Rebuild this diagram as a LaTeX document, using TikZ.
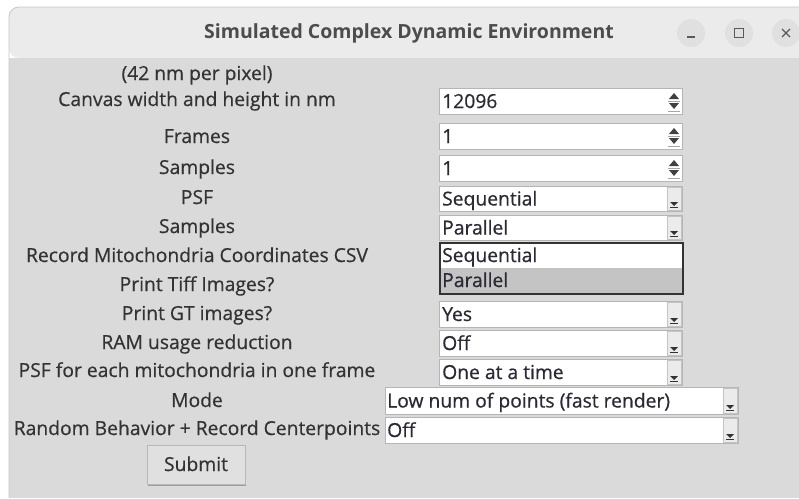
\documentclass[tikz,border=0pt]{standalone}
\usepackage{fontspec}
\setmainfont{Open Sans}[FakeBold=0.6]
\newfontfamily\mediumfont{Open Sans}[FakeBold=0.6,AutoFakeBold=0.6]
\definecolor{bodybg}{HTML}{DADADA}
\definecolor{titlebg}{HTML}{EBEBEB}
\definecolor{lblcol}{HTML}{333333}
\definecolor{fldborder}{HTML}{B5B5B5}
\definecolor{txtcol}{HTML}{2A2A35}
\definecolor{btncirc}{HTML}{E0E0E0}
\definecolor{hilite}{HTML}{C4C4C4}
\tikzset{
  lbl/.style={font=\mediumfont\bfseries\fontsize{19.3}{22}\selectfont, text=lblcol, anchor=base, inner sep=0pt},
  ftxt/.style={font=\mediumfont\bfseries\fontsize{19.3}{22}\selectfont, text=txtcol, anchor=base west, inner sep=0pt},
  fieldbox/.style={draw=fldborder, fill=white, line width=1pt},
  ddbtn/.style={draw=fldborder!80, fill=black!8, line width=0.6pt},
}
\begin{document}
\begin{tikzpicture}[x=1pt,y=-1pt]
\useasboundingbox (0,0) rectangle (799,498);
\fill[white] (0,0) rectangle (799,498);
% window
\fill[bodybg] (9,58) rectangle (799,498);
\fill[titlebg, rounded corners=10pt] (9,58) -- (9,7) -- (810,7) -- (810,58) -- cycle;
\fill[titlebg] (700,7) rectangle (799,58);
\draw[black!22, line width=0.8pt, rounded corners=10pt] (9,498) -- (9,7) -- (810,7);
\draw[black!15, line width=0.8pt] (9,58) -- (799,58);
\node[font=\fontspec{Open Sans Bold}\fontsize{19.5}{22}\selectfont, text=black!70] (title) at (409,33) {Simulated Complex Dynamic Environment};
% title buttons
\fill[btncirc] (691,33) circle (14);
\fill[btncirc] (739,33) circle (14);
\fill[btncirc] (786,33) circle (14);
\node[inner sep=0pt] (bmin) at (691,33) {};
\node[inner sep=0pt] (bmax) at (739,33) {};
\node[inner sep=0pt] (bcls) at (786,33) {};
\draw[black!65, line width=1.3pt] (687,37) -- (695,37);
\draw[black!65, line width=1.3pt] (734.5,28.5) rectangle (743.5,37.5);
\draw[black!65, line width=1.3pt] (782,29) -- (790,37) (790,29) -- (782,37);

% labels
\node[lbl] (l0) at (197,80) {(42 nm per pixel)};
\node[lbl] (l1) at (197,106) {Canvas width and height in nm};
\node[lbl] (l2) at (197,143) {Frames};
\node[lbl] (l3) at (197,174) {Samples};
\node[lbl] (l4) at (197,204) {PSF};
\node[lbl] (l5) at (197,233) {Samples};
\node[lbl] (l6) at (197,262) {Record Mitochondria Coordinates CSV};
\node[lbl] (l7) at (197,291) {Print Tiff Images?};
\node[lbl] (l8) at (197,320) {Print GT images?};
\node[lbl] (l9) at (197,349) {RAM usage reduction};
\node[lbl] (l10) at (197,377) {PSF for each mitochondria in one frame};
\node[lbl] (l11) at (197,407) {Mode};
\node[lbl] (l12) at (197,435) {Random Behavior + Record Centerpoints};

% spin boxes
\foreach \n/\t/\b/\v in {f1/88/114/12096, f2/123/149/1, f3/155/181/1}{
  \draw[fieldbox] (439,\t) rectangle (682,\b);
  \node[ftxt] (\n) at (442,{(\t+\b)/2+7}) {\v};
  \fill[black!75] (669,{(\t+\b)/2-2}) -- (679,{(\t+\b)/2-2}) -- (674,{(\t+\b)/2-8}) -- cycle;
  \fill[black!75] (669,{(\t+\b)/2+2}) -- (679,{(\t+\b)/2+2}) -- (674,{(\t+\b)/2+8}) -- cycle;
  \draw[black!35, line width=0.5pt] (668,{(\t+\b)/2}) -- (680,{(\t+\b)/2});
  \draw[black!35, line width=0.5pt] (668,{\b-3}) -- (680,{\b-3});
}
% dropdown fields
\foreach \n/\t/\b/\v in {f4/186/211/Sequential, f5/215/240/Parallel, f8/301/327/Yes, f9/330/356/Off, f10/359/385/One at a time}{
  \draw[fieldbox] (439,\t) rectangle (682,\b);
  \node[ftxt] (\n) at (442,{(\t+\b)/2+7}) {\v};
  \draw[ddbtn] (667,{\t+1}) rectangle (681,{\b-1});
  \fill[black!80] (670,{\b-9}) -- (678,{\b-9}) -- (674,{\b-5}) -- cycle;
  \draw[black!80, line width=0.8pt] (670,{\b-3.5}) -- (678,{\b-3.5});
}
\foreach \n/\t/\b/\v in {f11/387/414/Low num of points (fast render), f12/417/443/Off}{
  \draw[fieldbox] (385,\t) rectangle (738,\b);
  \node[ftxt] (\n) at (387,{(\t+\b)/2+7}) {\v};
  \draw[ddbtn] (723,{\t+1}) rectangle (737,{\b-1});
  \fill[black!80] (726,{\b-9}) -- (734,{\b-9}) -- (730,{\b-5}) -- cycle;
  \draw[black!80, line width=0.8pt] (726,{\b-3.5}) -- (734,{\b-3.5});
}
% open dropdown list
\fill[white] (440,243) rectangle (683,294);
\fill[hilite] (440,268) rectangle (683,293);
\draw[black!80, line width=1.2pt] (440,243) rectangle (683,294);
\node[ftxt] (o1) at (442,262) {Sequential};
\node[ftxt] (o2) at (442,287) {Parallel};

% submit
\fill[black!38] (148,446) rectangle (246,486);
\draw[black!28, fill=black!12, line width=0.8pt] (147,445) rectangle (245,484);
\node[lbl] (submit) at (196,471) {Submit};
\end{tikzpicture}
\end{document}
